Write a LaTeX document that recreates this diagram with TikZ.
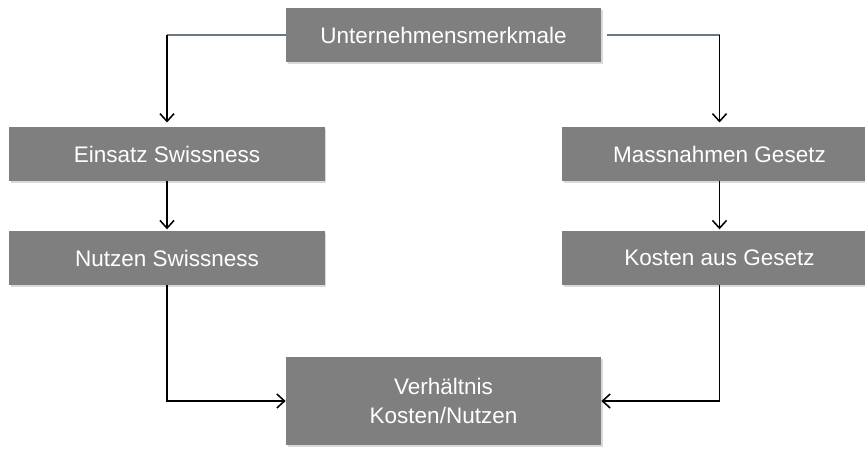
\documentclass[tikz,border=0pt]{standalone}
\usepackage{fontspec}
\setmainfont{Liberation Sans}
\usetikzlibrary{arrows.meta,shadows}

\definecolor{boxgray}{HTML}{7F7F7F}
\definecolor{leadgray}{HTML}{6B7883}

\tikzset{
    stepbox/.style={fill=boxgray, text=white, inner sep=0pt,
        minimum width=7.875cm, minimum height=1.35cm, font=\fontsize{16}{20}\selectfont,
        drop shadow={opacity=0.3, shadow xshift=1.2pt, shadow yshift=-1.2pt}},
    link/.style={line width=1.1pt, black},
    arr/.style={link, -{Straight Barb[length=5.5pt, width=10pt, line width=1.1pt]}},
    lead/.style={line width=0.9pt, leadgray}
}

\begin{document}
\begin{tikzpicture}[x=0.025cm, y=-0.025cm]
    
    % frame
    \useasboundingbox (0,0) rectangle (865,448);
    \clip (0,0) rectangle (865,448);
    
    % boxes
    \node [stepbox] (merkmale) at (443.5,35) {Unternehmensmerkmale};
    \node [stepbox] (einsatz) at (167,154) {Einsatz Swissness};
    \node [stepbox] (nutzen) at (167,258) {Nutzen Swissness};
    \node [stepbox] (massnahmen) at (719.5,154) {Massnahmen Gesetz};
    \node [stepbox] (kosten) at (719.5,258) {Kosten aus Gesetz};
    \node [stepbox, minimum height=2.2cm, align=center] (verhaeltnis) at (443.5,401)
        {Verhältnis\\Kosten/Nutzen};
    
    % corners
    \coordinate (lc) at (merkmale.west -| einsatz.north);
    \coordinate (rc) at (merkmale.east -| massnahmen.north);
    \coordinate (lb) at (verhaeltnis.west -| nutzen.south);
    \coordinate (rb) at (verhaeltnis.east -| kosten.south);
    
    % top leads
    \draw [lead] (merkmale.west) -- (lc);
    \draw [lead] ([xshift=0.15cm]merkmale.east) -- (rc);
    \draw [arr, shorten >=3pt] (lc) -- (einsatz.north);
    \draw [arr, shorten >=3pt] (rc) -- (massnahmen.north);
    
    % middle arrows
    \draw [arr, shorten >=1pt] (einsatz) -- (nutzen);
    \draw [arr, shorten >=1pt] (massnahmen) -- (kosten);
    
    % bottom arrows
    \draw [arr] (nutzen.south) -- (lb) -- (verhaeltnis.west);
    \draw [arr] (kosten.south) -- (rb) -- (verhaeltnis.east);
    
\end{tikzpicture}
\end{document}
